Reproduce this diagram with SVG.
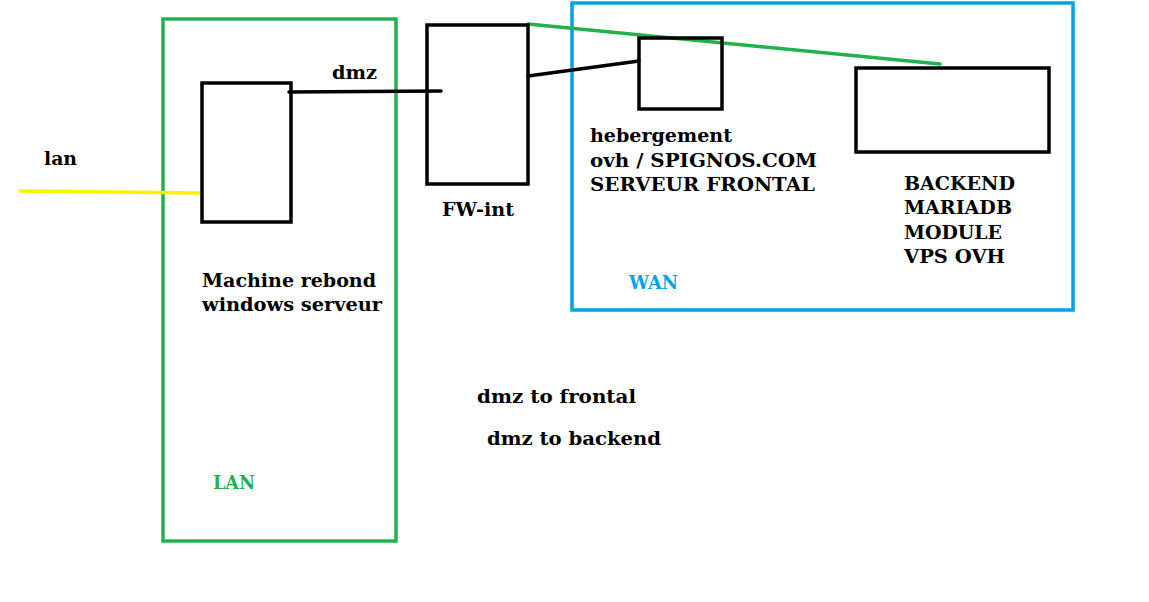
<svg xmlns="http://www.w3.org/2000/svg" width="1149" height="602" viewBox="0 0 1149 602">
<style>
.box{fill:none;stroke:#000;stroke-width:3.5}
.zone{fill:none;stroke-width:3.5}
.t{font-family:"DejaVu Serif",serif;font-weight:bold;font-size:18.5px;fill:#000}
.ln{fill:none;stroke-width:3.5;stroke-linecap:round}
</style>
<rect width="1149" height="602" fill="#fff"/>
<g id="zone-lan">
<rect class="zone" x="163" y="19" width="233" height="522" stroke="#22b14c"/>
<text class="t" x="213" y="489" style="fill:#22b14c" textLength="42" lengthAdjust="spacingAndGlyphs">LAN</text>
</g>
<g id="zone-wan">
<rect class="zone" x="572" y="3" width="501" height="307" stroke="#00a2e8"/>
<text class="t" x="629" y="289" style="fill:#00a2e8" textLength="49" lengthAdjust="spacingAndGlyphs">WAN</text>
</g>
<g id="connectors">
<line class="ln" x1="20" y1="191" x2="202" y2="193" stroke="#fff200"/>
<line class="ln" x1="289" y1="92" x2="441" y2="91" stroke="#000"/>
<line class="ln" x1="528" y1="76" x2="639" y2="61" stroke="#000"/>
<line class="ln" x1="528" y1="24" x2="940" y2="64" stroke="#22b14c"/>
</g>
<g id="label-lan"><text class="t" x="44" y="165" textLength="33" lengthAdjust="spacingAndGlyphs">lan</text></g>
<g id="label-dmz"><text class="t" x="332" y="79" textLength="45" lengthAdjust="spacingAndGlyphs">dmz</text></g>
<g id="machine-rebond">
<rect class="box" x="202" y="83" width="89" height="139"/>
<text class="t" x="202" y="287" textLength="174" lengthAdjust="spacingAndGlyphs">Machine rebond</text>
<text class="t" x="202" y="311" textLength="180" lengthAdjust="spacingAndGlyphs">windows serveur</text>
</g>
<g id="fw-int">
<rect class="box" x="427" y="25" width="101" height="159"/>
<text class="t" x="442" y="216" textLength="72" lengthAdjust="spacingAndGlyphs">FW-int</text>
</g>
<g id="frontal">
<rect class="box" x="639" y="38" width="83" height="71"/>
<text class="t" x="590" y="142" textLength="142" lengthAdjust="spacingAndGlyphs">hebergement</text>
<text class="t" x="590" y="167" textLength="227" lengthAdjust="spacingAndGlyphs">ovh / SPIGNOS.COM</text>
<text class="t" x="590" y="191" textLength="225" lengthAdjust="spacingAndGlyphs">SERVEUR FRONTAL</text>
</g>
<g id="backend">
<rect class="box" x="856" y="68" width="193" height="84"/>
<text class="t" x="904" y="190" textLength="111" lengthAdjust="spacingAndGlyphs">BACKEND</text>
<text class="t" x="904" y="214" textLength="108" lengthAdjust="spacingAndGlyphs">MARIADB</text>
<text class="t" x="904" y="239" textLength="98" lengthAdjust="spacingAndGlyphs">MODULE</text>
<text class="t" x="904" y="263" textLength="101" lengthAdjust="spacingAndGlyphs">VPS OVH</text>
</g>
<g id="notes">
<text class="t" x="477" y="403" textLength="159" lengthAdjust="spacingAndGlyphs">dmz to frontal</text>
<text class="t" x="487" y="445" textLength="174" lengthAdjust="spacingAndGlyphs">dmz to backend</text>
</g>
</svg>
